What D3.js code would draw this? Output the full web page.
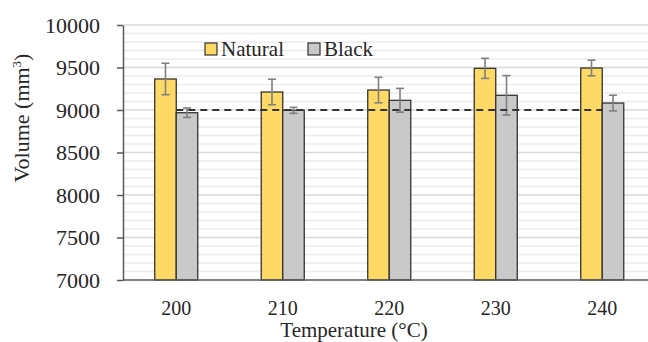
<!DOCTYPE html>
<html>
<head>
<meta charset="utf-8">
<script src="https://cdn.jsdelivr.net/npm/d3@7"></script>
<style>
	html, body { margin: 0; padding: 0; background: #fff; }
	svg { display: block; }
</style>
</head>
<body>
<div id="chart"></div>
<script>
const temps = ["200", "210", "220", "230", "240"];
const series = ["Natural", "Black"];
const naturalVals = [9365, 9212, 9235, 9490, 9494];
const naturalErr = [185, 150, 150, 118, 92];
const blackVals = [8968, 8996, 9114, 9173, 9082];
const blackErr = [55, 35, 140, 232, 92];
const targetVals = [9000, 9000, 9000, 9000, 9000];
const yTicks = [7000, 7500, 8000, 8500, 9000, 9500, 10000];

const width = 648;
const height = 342;
const plot = {left: 123, right: 655.5, top: 25, bottom: 280};
const colors = {Natural: "#ffd966", Black: "#c9c9c9"};
const FONT = "Liberation Serif";

const svg = d3.select("#chart")
	.append("svg")
	.attr("width", width)
	.attr("height", height)
	.attr("viewBox", `0 0 ${width} ${height}`)
	.attr("font-family", FONT);

const x0 = d3.scaleBand()
	.domain(temps)
	.range([plot.left, plot.right])
	.paddingInner(0.596)
	.paddingOuter(0.298);

const x1 = d3.scaleBand()
	.domain(series)
	.range([0, x0.bandwidth()]);

const y = d3.scaleLinear()
	.domain([7000, 10000])
	.range([plot.bottom, plot.top]);

// Gridlines: minor every 100, major every 500
const minor = d3.range(7100, 10000, 100).filter(v => v % 500 !== 0);
svg.append("g")
	.selectAll("line")
	.data(minor)
	.join("line")
	.attr("x1", plot.left)
	.attr("x2", width)
	.attr("y1", d => y(d))
	.attr("y2", d => y(d))
	.attr("stroke", "#ececec")
	.attr("stroke-width", 1.3);

svg.append("g")
	.selectAll("line")
	.data(yTicks.filter(v => v > 7000))
	.join("line")
	.attr("x1", plot.left)
	.attr("x2", width)
	.attr("y1", d => y(d))
	.attr("y2", d => y(d))
	.attr("stroke", "#d9d9d9")
	.attr("stroke-width", 1.5);

// Bars
const rows = temps.map((t, i) => ({
	temp: t,
	items: [
		{key: "Natural", value: naturalVals[i], err: naturalErr[i]},
		{key: "Black", value: blackVals[i], err: blackErr[i]}
	]
}));

const groups = svg.append("g")
	.selectAll("g")
	.data(rows)
	.join("g")
	.attr("transform", d => `translate(${x0(d.temp)},0)`);

groups.selectAll("rect")
	.data(d => d.items)
	.join("rect")
	.attr("x", d => x1(d.key))
	.attr("y", d => y(d.value))
	.attr("width", x1.bandwidth())
	.attr("height", d => y(7000) - y(d.value))
	.attr("fill", d => colors[d.key])
	.attr("stroke", "#333")
	.attr("stroke-width", 1.3);

// Error bars
const errG = groups.selectAll("g.err")
	.data(d => d.items)
	.join("g")
	.attr("class", "err")
	.attr("stroke", "#7f7f7f")
	.attr("stroke-width", 1.6);

const cx = d => x1(d.key) + x1.bandwidth() / 2;
errG.append("line")
	.attr("x1", cx).attr("x2", cx)
	.attr("y1", d => y(d.value + d.err))
	.attr("y2", d => y(d.value - d.err));
errG.append("line")
	.attr("x1", d => cx(d) - 4).attr("x2", d => cx(d) + 4)
	.attr("y1", d => y(d.value + d.err))
	.attr("y2", d => y(d.value + d.err));
errG.append("line")
	.attr("x1", d => cx(d) - 4).attr("x2", d => cx(d) + 4)
	.attr("y1", d => y(d.value - d.err))
	.attr("y2", d => y(d.value - d.err));

// Target line at 9000
const line = d3.line()
	.x((d, i) => x0(temps[i]) + x0.bandwidth() / 2)
	.y(d => y(d));

svg.append("path")
	.datum(targetVals)
	.attr("d", line)
	.attr("fill", "none")
	.attr("stroke", "#333")
	.attr("stroke-width", 2)
	.attr("stroke-dasharray", "7,5");

// Axes
const yAxis = svg.append("g")
	.attr("transform", `translate(${plot.left},0)`)
	.call(d3.axisLeft(y).tickValues(yTicks).tickSize(6).tickSizeOuter(0).tickPadding(17).tickFormat(d3.format("d")))
	.attr("font-family", FONT)
	.attr("font-size", null);
yAxis.select(".domain").attr("stroke", "#595959").attr("stroke-width", 1.5);
yAxis.selectAll(".tick line").attr("stroke", "#595959").attr("stroke-width", 1.5);
yAxis.selectAll(".tick text")
	.attr("fill", "#262626")
	.attr("font-size", "22px")
	.attr("font-family", FONT);

svg.append("line")
	.attr("x1", plot.left)
	.attr("x2", width)
	.attr("y1", plot.bottom)
	.attr("y2", plot.bottom)
	.attr("stroke", "#595959")
	.attr("stroke-width", 1.5);

svg.append("g")
	.selectAll("text")
	.data(temps)
	.join("text")
	.attr("x", d => x0(d) + x0.bandwidth() / 2)
	.attr("y", 315)
	.attr("text-anchor", "middle")
	.attr("fill", "#262626")
	.attr("font-family", FONT)
	.attr("font-size", "20px")
	.text(d => d);

// Axis titles
svg.append("text")
	.attr("x", 354)
	.attr("y", 337)
	.attr("text-anchor", "middle")
	.attr("fill", "#262626")
	.attr("font-family", FONT)
	.attr("font-size", "21px")
	.text("Temperature (°C)");

const yTitle = svg.append("text")
	.attr("transform", "translate(29,118) rotate(-90)")
	.attr("text-anchor", "middle")
	.attr("fill", "#262626")
	.attr("font-family", FONT)
	.attr("font-size", "22px");
yTitle.append("tspan").text("Volume (mm");
yTitle.append("tspan").attr("font-size", "13px").attr("dy", "-8").text("3");
yTitle.append("tspan").attr("dy", "8").text(")");

// Legend
const legendPos = [{key: "Natural", x: 205}, {key: "Black", x: 308}];
const legend = svg.append("g")
	.selectAll("g")
	.data(legendPos)
	.join("g")
	.attr("transform", d => `translate(${d.x},43)`);
legend.append("rect")
	.attr("width", 12)
	.attr("height", 12)
	.attr("fill", d => colors[d.key])
	.attr("stroke", "#333")
	.attr("stroke-width", 1.2);
legend.append("text")
	.attr("x", 16)
	.attr("y", 13)
	.attr("fill", "#262626")
	.attr("font-family", FONT)
	.attr("font-size", "21px")
	.text(d => d.key);
</script>
</body>
</html>
